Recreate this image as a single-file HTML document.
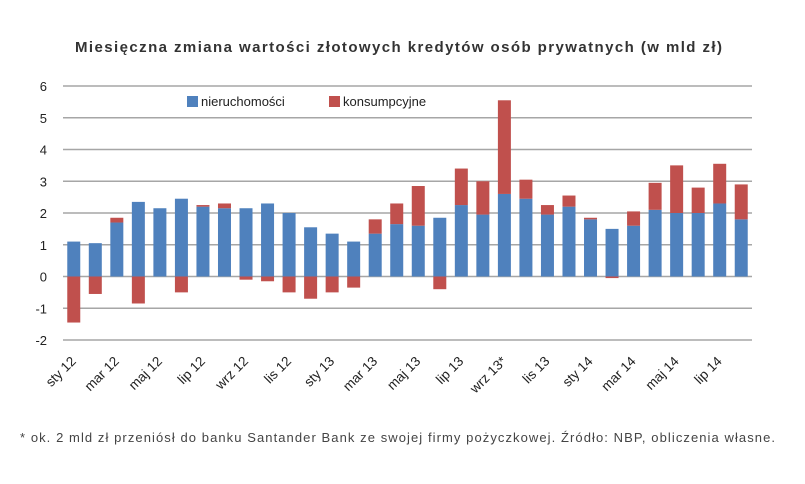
<!DOCTYPE html>
<html><head><meta charset="utf-8">
<style>
body{margin:0;background:#fff;}
svg text{font-family:"Liberation Sans",sans-serif;}
</style></head>
<body>
<svg width="805" height="479" viewBox="0 0 805 479" xmlns="http://www.w3.org/2000/svg">
<text x="75" y="52" font-size="15" font-weight="bold" fill="#333" textLength="647" lengthAdjust="spacing">Miesięczna zmiana wartości  złotowych kredytów  osób  prywatnych  (w mld zł)</text>
<g id="grid"></g>
<g id="bars"></g>
<g id="xlabels"></g>
<g>
<rect x="187" y="96" width="11" height="11" fill="#4f81bd"/>
<text x="201" y="106" font-size="13" fill="#222">nieruchomości</text>
<rect x="329" y="96" width="11" height="11" fill="#c0504d"/>
<text x="343" y="106" font-size="13" fill="#222">konsumpcyjne</text>
</g>
<text x="20" y="442" font-size="13" fill="#444" textLength="755" lengthAdjust="spacing">* ok. 2 mld zł przeniósł do banku Santander Bank ze swojej firmy pożyczkowej. Źródło: NBP, obliczenia własne.</text>
</svg>
<script>
const categories=["sty 12","lut 12","mar 12","kwi 12","maj 12","cze 12","lip 12","sie 12","wrz 12","paź 12","lis 12","gru 12","sty 13","lut 13","mar 13","kwi 13","maj 13","cze 13","lip 13","sie 13","wrz 13*","paź 13","lis 13","gru 13","sty 14","lut 14","mar 14","kwi 14","maj 14","cze 14","lip 14","sie 14"];
const nieruchomosci=[1.1,1.05,1.7,2.35,2.15,2.45,2.2,2.15,2.15,2.3,2.0,1.55,1.35,1.1,1.35,1.65,1.6,1.85,2.25,1.95,2.6,2.45,1.95,2.2,1.8,1.5,1.6,2.1,2.0,2.0,2.3,1.8];
const konsumpcyjne=[-1.45,-0.55,0.15,-0.85,0,-0.5,0.05,0.15,-0.1,-0.15,-0.5,-0.7,-0.5,-0.35,0.45,0.65,1.25,-0.4,1.15,1.05,2.95,0.6,0.3,0.35,0.05,-0.05,0.45,0.85,1.5,0.8,1.25,1.1];
const yTicks=[-2,-1,0,1,2,3,4,5,6];
const NS="http://www.w3.org/2000/svg";
const L=63,R=752,T=86,B=340,ymin=-2,ymax=6;
const y=v=>B-(v-ymin)/(ymax-ymin)*(B-T);
const step=(R-L)/categories.length;
const xc=i=>L+step*(i+0.5);
const bw=13;
function mk(tag,attrs,parent){const e=document.createElementNS(NS,tag);for(const k in attrs)e.setAttribute(k,attrs[k]);parent.appendChild(e);return e;}
const grid=document.getElementById('grid');
yTicks.forEach(t=>{
 const l=mk('line',{x1:L,x2:R,y1:y(t),y2:y(t),stroke:'#a6a6a6','stroke-width':1.5},grid);
 
 
 const tx=mk('text',{x:47,y:y(t)+5,'text-anchor':'end','font-size':13,fill:'#222'},grid);
 tx.textContent=t;
 
 
});
const bars=document.getElementById('bars');
categories.forEach((c,i)=>{
 const b=nieruchomosci[i],k=konsumpcyjne[i];
 const r1=mk('rect',{x:xc(i)-bw/2,y:y(Math.max(b,0)),width:bw,height:Math.abs(y(b)-y(0)),fill:'#4f81bd'},bars);
 
 
 let y0,y1;
 if(k>=0){y0=y(b+k);y1=y(b);}else{y0=y(0);y1=y(k);}
 const r2=mk('rect',{x:xc(i)-bw/2,y:y0,width:bw,height:Math.abs(y1-y0),fill:'#c0504d'},bars);
 
 
});
const xl=document.getElementById('xlabels');
categories.forEach((c,i)=>{
 if(i%2)return;
 const px=xc(i)+3,py=362;
 const t=mk('text',{x:px,y:py,'text-anchor':'end','font-size':13.5,fill:'#222',transform:`rotate(-45 ${px} ${py})`},xl);
 t.textContent=c;
 
 
});
</script>
</body></html>
